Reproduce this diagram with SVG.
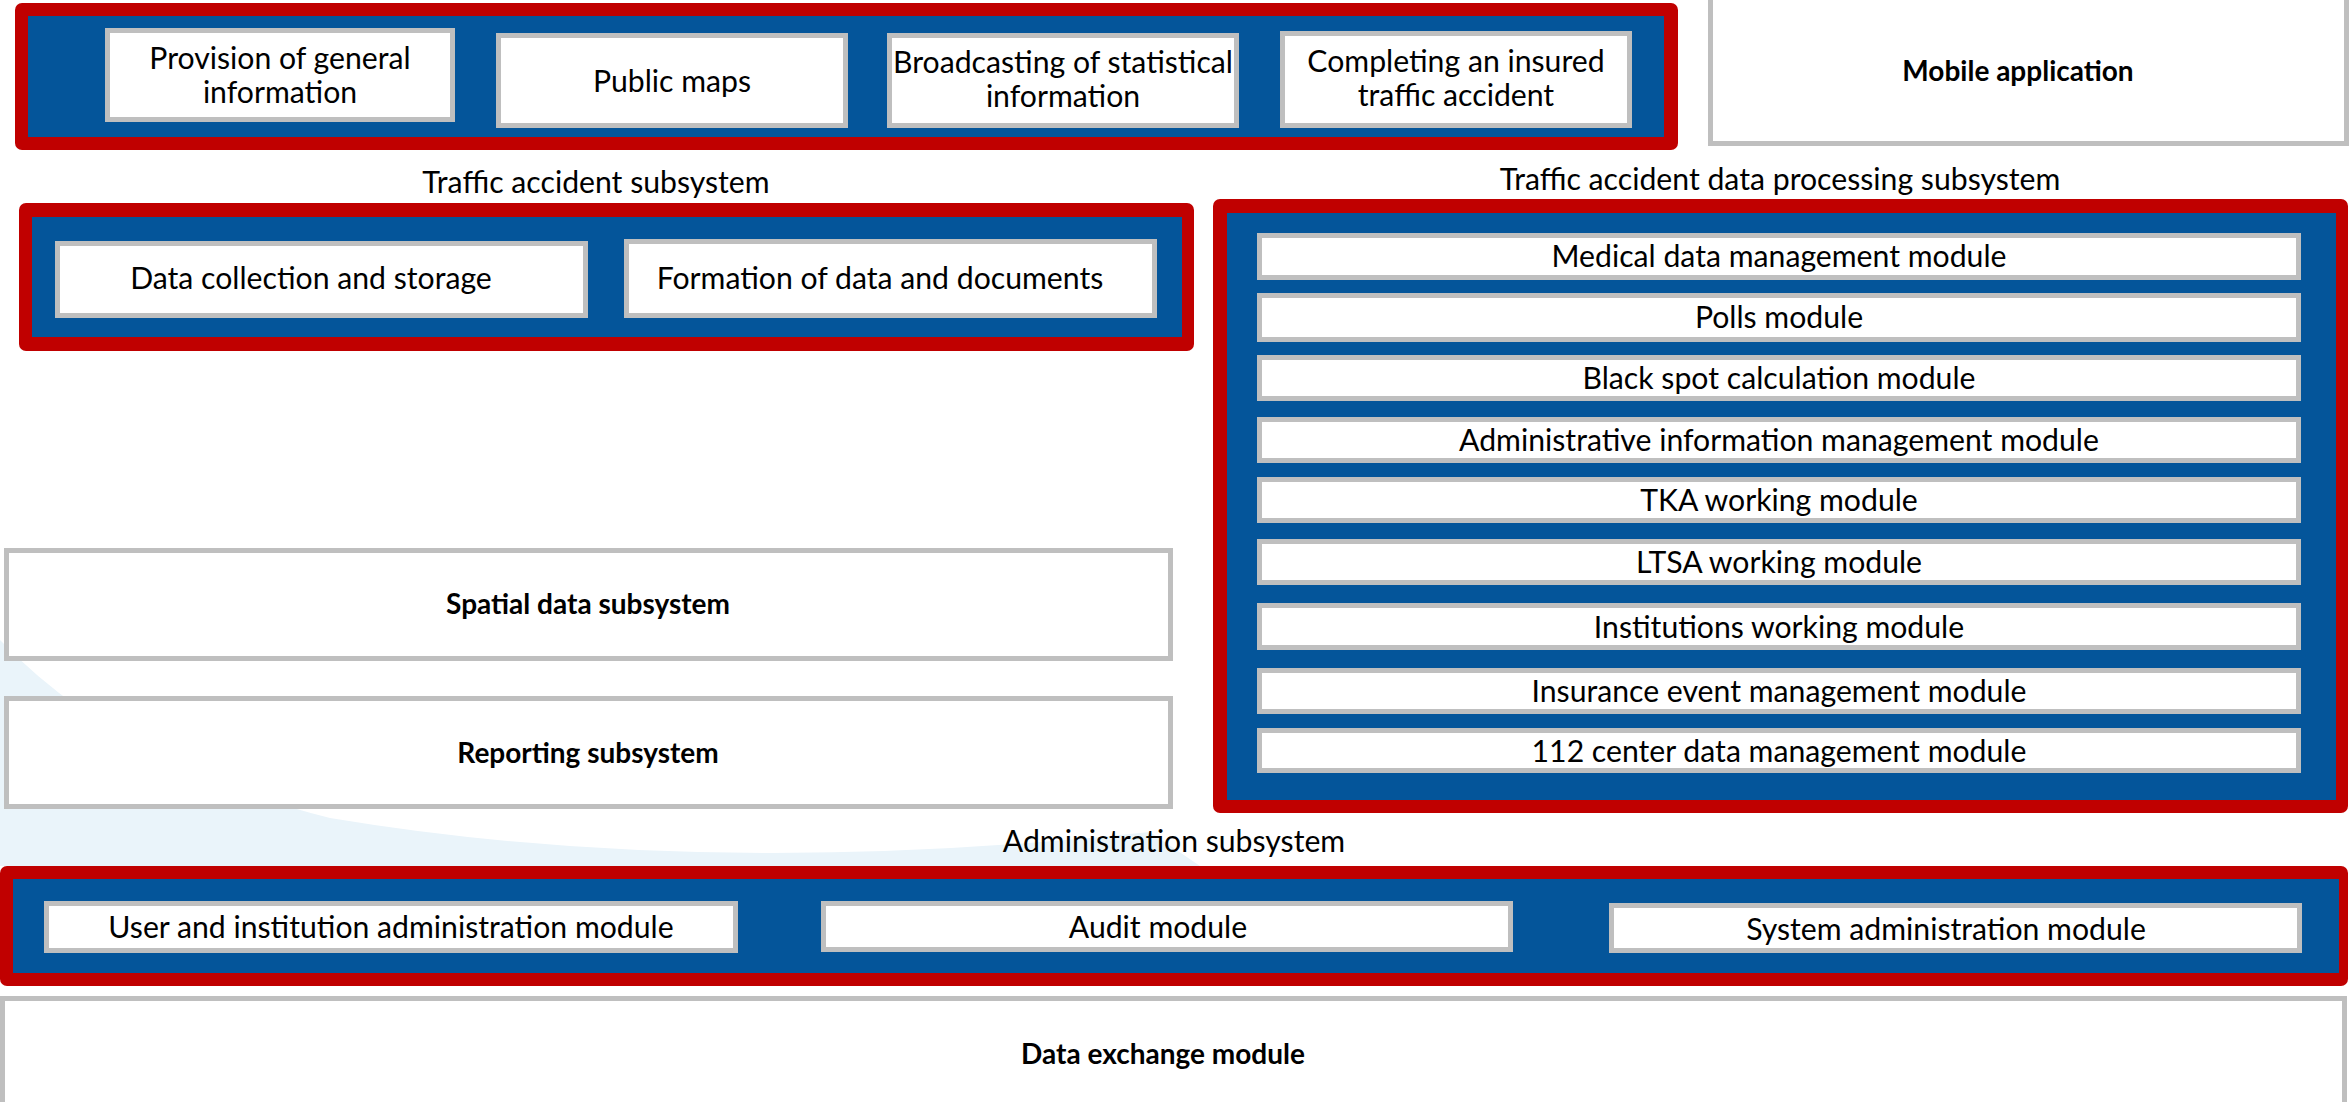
<svg xmlns="http://www.w3.org/2000/svg" width="2349" height="1102" viewBox="0 0 2349 1102">
<defs>
<style>
.frame{fill:#c00000}
.inner{fill:#04559a}
.box{fill:#ffffff;stroke:#bfbfbf;stroke-width:5}
.t{font-family:Lato,"Liberation Sans",sans-serif;font-size:30.2px;fill:#000;text-anchor:middle}
.b{font-family:Lato,"Liberation Sans",sans-serif;font-size:28px;font-weight:bold;fill:#000;text-anchor:middle}
</style>
</defs>
<rect x="0" y="0" width="2349" height="1102" fill="#ffffff"/>
<path d="M0,640 Q120,765 330,818 Q700,880 1150,832 L1200,866 L0,866 Z" fill="#eaf4fa"/>

<g id="public-portal">
<rect class="frame" x="15" y="3" width="1663" height="147" rx="7"/>
<rect class="inner" x="28" y="16" width="1636" height="121"/>
</g>
<g id="provision">
<rect class="box" x="107.5" y="30.5" width="345" height="89"/>
<text class="t" x="280" y="69">Provision of general</text>
<text class="t" x="280" y="103">information</text>
</g>
<g id="public-maps">
<rect class="box" x="498.5" y="35.5" width="347" height="90"/>
<text class="t" x="672" y="92">Public maps</text>
</g>
<g id="broadcasting">
<rect class="box" x="889.5" y="35.5" width="347" height="90"/>
<text class="t" x="1063" y="73">Broadcasting of statistical</text>
<text class="t" x="1063" y="107">information</text>
</g>
<g id="completing">
<rect class="box" x="1282.5" y="33.5" width="347" height="92"/>
<text class="t" x="1456" y="72">Completing an insured</text>
<text class="t" x="1456" y="106">traffic accident</text>
</g>
<g id="mobile-application">
<rect class="box" x="1710.5" y="-3" width="636" height="146.5"/>
<text class="b" x="2018" y="81">Mobile application</text>
</g>

<g id="traffic-accident-subsystem">
<text class="t" x="596" y="193">Traffic accident subsystem</text>
<rect class="frame" x="19" y="203" width="1175" height="148" rx="7"/>
<rect class="inner" x="32" y="217" width="1150" height="120"/>
</g>
<g id="data-collection">
<rect class="box" x="57.5" y="243.5" width="528" height="72"/>
<text class="t" x="311" y="289">Data collection and storage</text>
</g>
<g id="formation">
<rect class="box" x="626.5" y="241.5" width="528" height="74"/>
<text class="t" x="880" y="289">Formation of data and documents</text>
</g>

<g id="processing-subsystem">
<text class="t" x="1780" y="190">Traffic accident data processing subsystem</text>
<rect class="frame" x="1213" y="199" width="1135" height="614" rx="7"/>
<rect class="inner" x="1227" y="213" width="1109" height="587"/>
</g>
<g id="medical">
<rect class="box" x="1259.5" y="235.5" width="1039" height="42"/>
<text class="t" x="1779" y="267">Medical data management module</text>
</g>
<g id="polls">
<rect class="box" x="1259.5" y="295.5" width="1039" height="44"/>
<text class="t" x="1779" y="328">Polls module</text>
</g>
<g id="black-spot">
<rect class="box" x="1259.5" y="357.5" width="1039" height="41"/>
<text class="t" x="1779" y="389">Black spot calculation module</text>
</g>
<g id="administrative-info">
<rect class="box" x="1259.5" y="419.5" width="1039" height="41"/>
<text class="t" x="1779" y="451">Administrative information management module</text>
</g>
<g id="tka">
<rect class="box" x="1259.5" y="479.5" width="1039" height="41"/>
<text class="t" x="1779" y="511">TKA working module</text>
</g>
<g id="ltsa">
<rect class="box" x="1259.5" y="541.5" width="1039" height="41"/>
<text class="t" x="1779" y="573">LTSA working module</text>
</g>
<g id="institutions">
<rect class="box" x="1259.5" y="605.5" width="1039" height="42"/>
<text class="t" x="1779" y="638">Institutions working module</text>
</g>
<g id="insurance">
<rect class="box" x="1259.5" y="670.5" width="1039" height="41"/>
<text class="t" x="1779" y="702">Insurance event management module</text>
</g>
<g id="center-112">
<rect class="box" x="1259.5" y="730.5" width="1039" height="40"/>
<text class="t" x="1779" y="762">112 center data management module</text>
</g>

<g id="spatial-data">
<rect class="box" x="6.5" y="550.5" width="1164" height="108"/>
<text class="b" x="588" y="614">Spatial data subsystem</text>
</g>
<g id="reporting">
<rect class="box" x="6.5" y="698.5" width="1164" height="108"/>
<text class="b" x="588" y="763">Reporting subsystem</text>
</g>

<g id="administration-subsystem">
<text class="t" x="1174" y="852">Administration subsystem</text>
<rect class="frame" x="0" y="866" width="2348" height="120" rx="7"/>
<rect class="inner" x="13" y="879" width="2326" height="94"/>
</g>
<g id="user-admin">
<rect class="box" x="46.5" y="903.5" width="689" height="47"/>
<text class="t" x="391" y="938">User and institution administration module</text>
</g>
<g id="audit">
<rect class="box" x="823.5" y="903.5" width="687" height="46"/>
<text class="t" x="1158" y="938">Audit module</text>
</g>
<g id="system-admin">
<rect class="box" x="1611.5" y="905.5" width="688" height="45"/>
<text class="t" x="1946" y="940">System administration module</text>
</g>

<g id="data-exchange">
<rect class="box" x="2.5" y="998.5" width="2342" height="110"/>
<text class="b" x="1163" y="1064">Data exchange module</text>
</g>

<g id="connectors"></g>
</svg>
